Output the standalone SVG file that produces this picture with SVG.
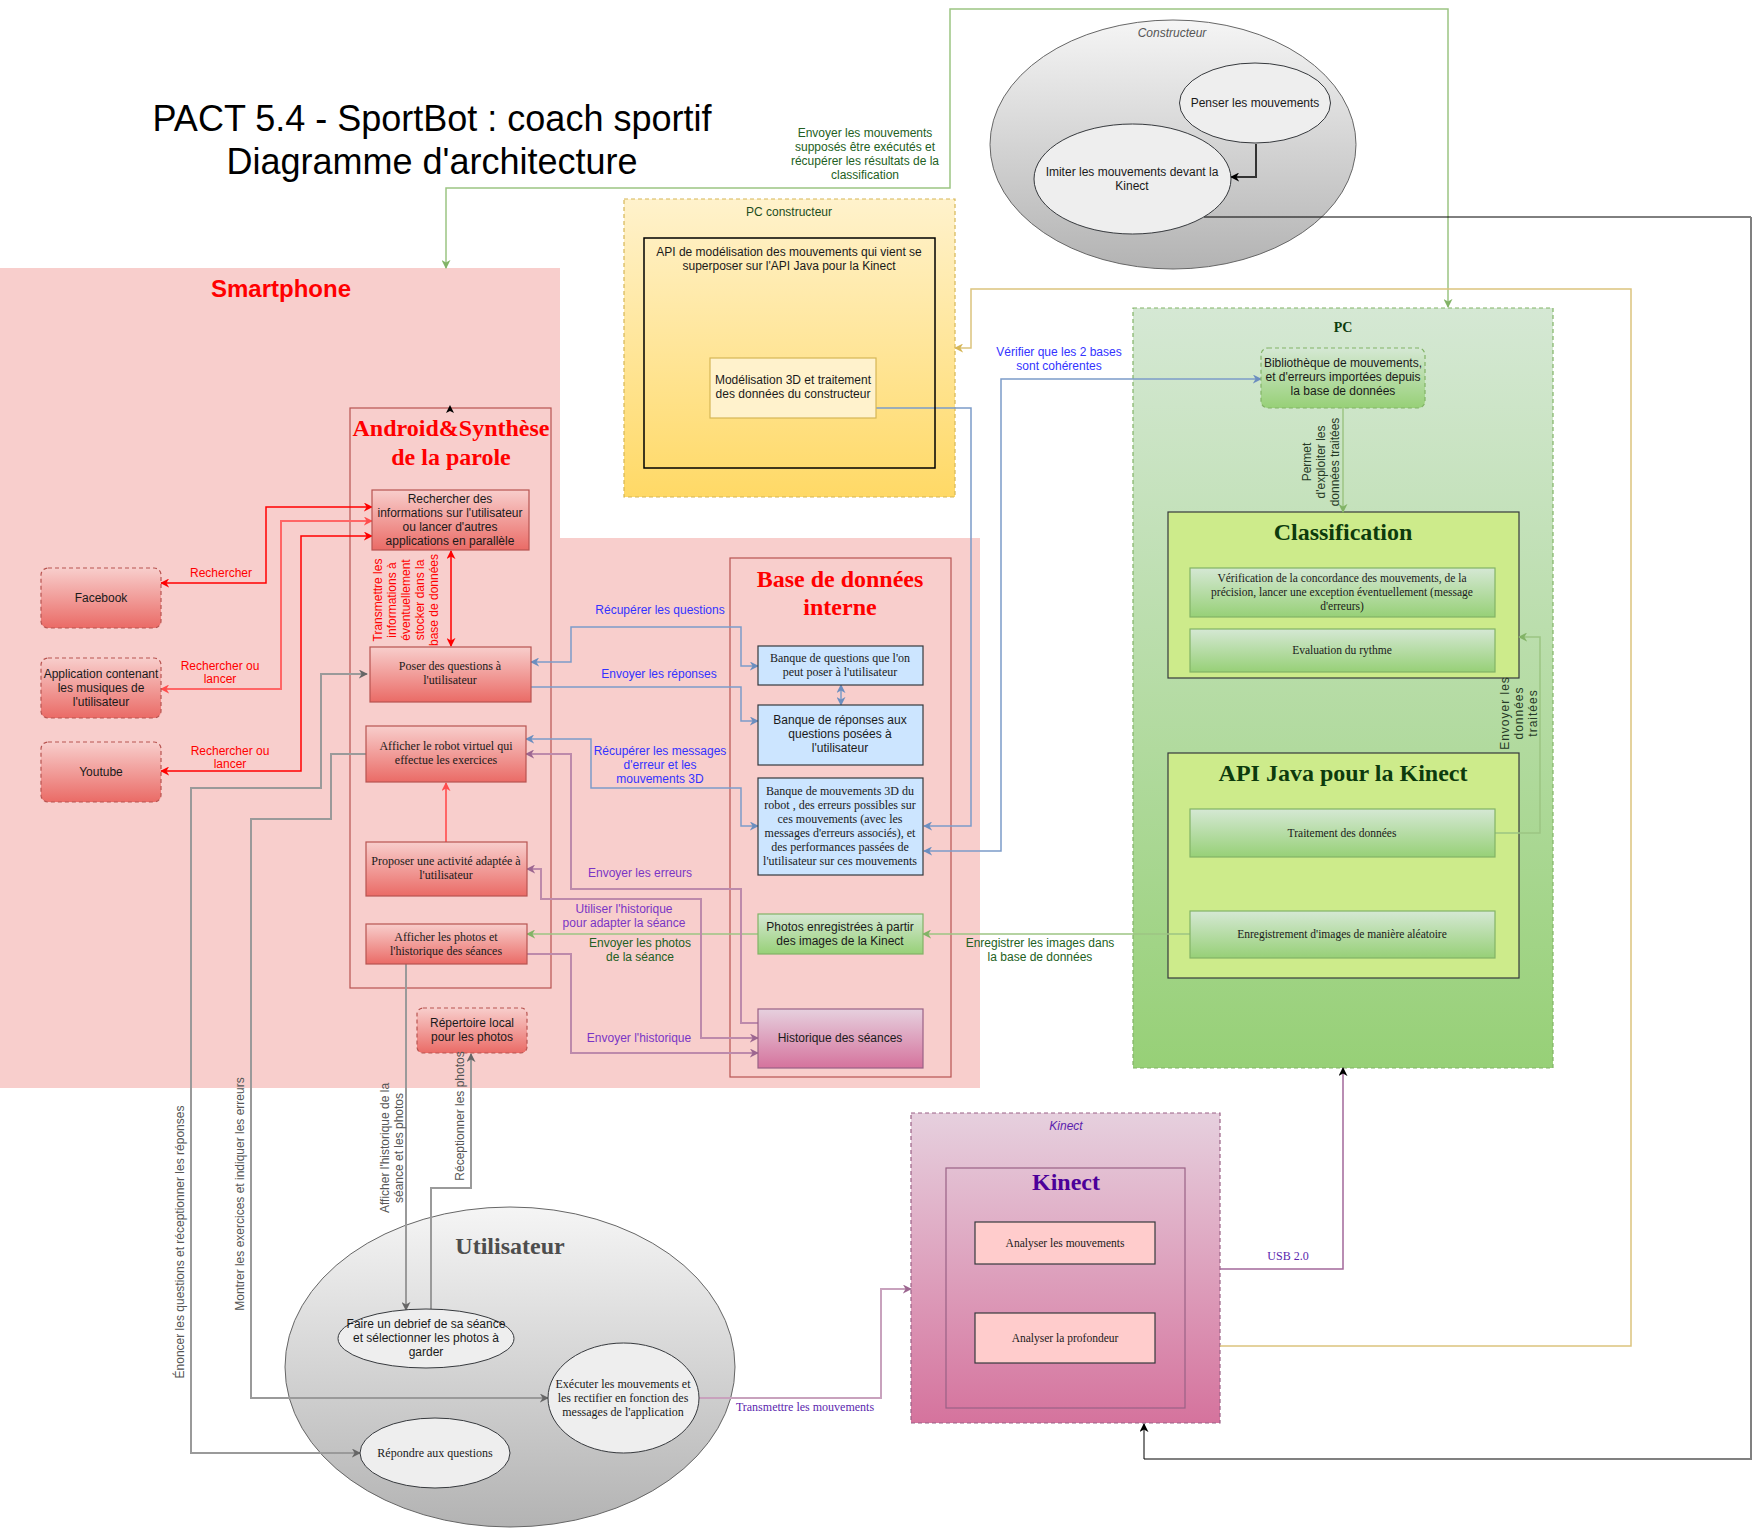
<svg xmlns="http://www.w3.org/2000/svg" width="1761" height="1529" viewBox="0 0 1761 1529">
<defs>
<linearGradient id="gRed" x1="0" y1="0" x2="0" y2="1"><stop offset="0" stop-color="#f8cecc"/><stop offset="1" stop-color="#ea6b66"/></linearGradient>
<linearGradient id="gGreen" x1="0" y1="0" x2="0" y2="1"><stop offset="0" stop-color="#d5e8d4"/><stop offset="1" stop-color="#97d077"/></linearGradient>
<linearGradient id="gYellow" x1="0" y1="0" x2="0" y2="1"><stop offset="0" stop-color="#fff2cc"/><stop offset="1" stop-color="#ffd966"/></linearGradient>
<linearGradient id="gPink" x1="0" y1="0" x2="0" y2="1"><stop offset="0" stop-color="#e6d0de"/><stop offset="1" stop-color="#d5739d"/></linearGradient>
<linearGradient id="gGray" x1="0" y1="0" x2="0" y2="1"><stop offset="0" stop-color="#f5f5f5"/><stop offset="1" stop-color="#b3b3b3"/></linearGradient>
<marker id="ar" viewBox="0 0 10 10" refX="9" refY="5" markerWidth="9" markerHeight="9" markerUnits="userSpaceOnUse" orient="auto-start-reverse"><path d="M0,0 L10,5 L0,10 L3,5 Z" fill="#ff0000"/></marker>
<marker id="ar2" viewBox="0 0 10 10" refX="9" refY="5" markerWidth="9" markerHeight="9" markerUnits="userSpaceOnUse" orient="auto-start-reverse"><path d="M0,0 L10,5 L0,10 L3,5 Z" fill="#ff4d4d"/></marker>
<marker id="ab" viewBox="0 0 10 10" refX="9" refY="5" markerWidth="9" markerHeight="9" markerUnits="userSpaceOnUse" orient="auto-start-reverse"><path d="M0,0 L10,5 L0,10 L3,5 Z" fill="#6c8ebf"/></marker>
<marker id="ap" viewBox="0 0 10 10" refX="9" refY="5" markerWidth="9" markerHeight="9" markerUnits="userSpaceOnUse" orient="auto-start-reverse"><path d="M0,0 L10,5 L0,10 L3,5 Z" fill="#9c6690"/></marker>
<marker id="ag" viewBox="0 0 10 10" refX="9" refY="5" markerWidth="9" markerHeight="9" markerUnits="userSpaceOnUse" orient="auto-start-reverse"><path d="M0,0 L10,5 L0,10 L3,5 Z" fill="#82b366"/></marker>
<marker id="agr" viewBox="0 0 10 10" refX="9" refY="5" markerWidth="9" markerHeight="9" markerUnits="userSpaceOnUse" orient="auto-start-reverse"><path d="M0,0 L10,5 L0,10 L3,5 Z" fill="#666666"/></marker>
<marker id="ay" viewBox="0 0 10 10" refX="9" refY="5" markerWidth="9" markerHeight="9" markerUnits="userSpaceOnUse" orient="auto-start-reverse"><path d="M0,0 L10,5 L0,10 L3,5 Z" fill="#d6b656"/></marker>
<marker id="ak" viewBox="0 0 10 10" refX="9" refY="5" markerWidth="9" markerHeight="9" markerUnits="userSpaceOnUse" orient="auto-start-reverse"><path d="M0,0 L10,5 L0,10 L3,5 Z" fill="#000000"/></marker>
<style>
.sans{font-family:"Liberation Sans",Arial,sans-serif}
.serif{font-family:"Liberation Serif","Times New Roman",serif}
.f12{font-size:12px}
.f11{font-size:11.5px}
.big{font-size:24px;font-weight:bold}
.ink{fill:#1a1a1a}
.mid{text-anchor:middle}
.redbox{fill:url(#gRed);stroke:#b85450;stroke-width:1.2}
.greenbox{fill:url(#gGreen);stroke:#82b366;stroke-width:1.2}
.bluebox{fill:#cce5ff;stroke:#36393d;stroke-width:1.2}
.pinkbox{fill:url(#gPink);stroke:#996185;stroke-width:1.2}
.lgbox{fill:#cdeb8b;stroke:#36393d;stroke-width:1.2}
.rosebox{fill:#ffcccc;stroke:#36393d;stroke-width:1.2}
.inell{fill:#eeeeee;stroke:#36393d;stroke-width:1}
.dash{stroke-dasharray:4 3}
.c-red{stroke:#ff0000;stroke-width:1.5;fill:none}
.c-red2{stroke:#ff6666;stroke-width:2;fill:none}
.c-blue{stroke:#7c9cc9;stroke-width:1.5;fill:none}
.c-purple{stroke:#bd8aab;stroke-width:2;fill:none}
.c-green{stroke:#9cc583;stroke-width:1.5;fill:none}
.c-gray{stroke:#9a9a9a;stroke-width:2;fill:none}
.c-yellow{stroke:#dcc47e;stroke-width:1.5;fill:none}
.c-black{stroke:#000000;stroke-width:1;fill:none}
.c-dark{stroke:#333333;stroke-width:2;fill:none}
.l-red{fill:#ff0000}
.l-blue{fill:#3333ff}
.l-purple{fill:#7a35c5}
.l-green{fill:#235f23}
.l-gray{fill:#555555}
.l-violet{fill:#5b1fae}
</style>
</defs>
<rect x="0" y="0" width="1761" height="1529" fill="#ffffff"/>

<!-- Title -->
<g id="title">
<text class="sans mid" font-size="36" fill="#000" x="432" y="131">PACT 5.4 - SportBot : coach sportif</text>
<text class="sans mid" font-size="36" fill="#000" x="432" y="174">Diagramme d'architecture</text>
</g>

<!-- Containers -->
<g id="smartphone">
<path d="M0,268 H560 V538 H980 V1088 H0 Z" fill="#f8cecc"/>
<text class="sans mid" font-size="24" font-weight="bold" fill="#ff0000" x="281" y="297">Smartphone</text>
</g>
<g id="android">
<rect x="350" y="408" width="201" height="580" fill="none" stroke="#b85450" stroke-width="1.2"/>
<text class="serif big mid" fill="#ff0000" x="451" y="436">Android&amp;Synthèse</text>
<text class="serif big mid" fill="#ff0000" x="451" y="465">de la parole</text>
<path d="M446,413 L450,405 L454,413 L450,411 Z" fill="#000"/>
</g>
<g id="base-donnees">
<rect x="730" y="558" width="221" height="519" fill="none" stroke="#b85450" stroke-width="1.2"/>
<text class="serif big mid" fill="#ff0000" x="840" y="587">Base de données</text>
<text class="serif big mid" fill="#ff0000" x="840" y="615">interne</text>
</g>
<g id="pc-constructeur">
<rect x="624" y="199" width="331" height="298" fill="url(#gYellow)" stroke="#d6b656" stroke-width="1.2" class="dash"/>
<text class="sans f12 mid" fill="#1d4d1d" x="789" y="216">PC constructeur</text>
</g>
<g id="pc">
<rect x="1133" y="308" width="420" height="760" fill="url(#gGreen)" stroke="#82b366" stroke-width="1.2" class="dash"/>
<text class="serif mid" font-size="14" font-weight="bold" fill="#0d3d0d" x="1343" y="332">PC</text>
</g>
<g id="classification">
<rect x="1168" y="512" width="351" height="166" class="lgbox"/>
<text class="serif big mid" fill="#0d3b0d" x="1343" y="540">Classification</text>
</g>
<g id="api-java">
<rect x="1168" y="753" width="351" height="225" class="lgbox"/>
<text class="serif big mid" fill="#0d3b0d" x="1343" y="781">API Java pour la Kinect</text>
</g>
<g id="kinect-device">
<rect x="911" y="1113" width="309" height="310" fill="url(#gPink)" stroke="#996185" stroke-width="1.2" class="dash"/>
<text class="sans f12 mid" font-style="italic" fill="#5b1fae" x="1066" y="1130">Kinect</text>
</g>
<g id="kinect">
<rect x="946" y="1168" width="239" height="240" fill="none" stroke="#996185" stroke-width="1.2"/>
<text class="serif big mid" fill="#4c0099" x="1066" y="1190">Kinect</text>
</g>
<g id="constructeur">
<ellipse cx="1173" cy="144.5" rx="183" ry="124.5" fill="url(#gGray)" stroke="#666" stroke-width="1"/>
<text class="sans f12 mid" font-style="italic" fill="#555" x="1172" y="37">Constructeur</text>
</g>
<g id="utilisateur">
<ellipse cx="510" cy="1367" rx="225" ry="160" fill="url(#gGray)" stroke="#666" stroke-width="1"/>
<text class="serif big mid" fill="#4d4d4d" x="510" y="1254">Utilisateur</text>
</g>

<!-- Connectors -->
<g id="connectors">
<path class="c-green" d="M1448,307 V9 H950 V188 H446 V268" marker-start="url(#ag)" marker-end="url(#ag)"/>
<path class="c-dark" d="M1256,144 V177 H1231" marker-end="url(#ak)"/>
<path class="c-black" d="M1204,217 H1751"/>
<path d="M1751,217 V1459 H1160" fill="none" stroke="#808080" stroke-width="2"/>
<path class="c-black" d="M1160,1459 H1144 V1424" marker-end="url(#ak)"/>
<path class="c-yellow" d="M1220,1346 H1631 V289 H971 V348 H955" marker-end="url(#ay)"/>
<path class="c-blue" d="M876,408 H971 V826 H924" marker-end="url(#ab)"/>
<path class="c-blue" d="M924,851 H1001 V379 H1261" marker-start="url(#ab)" marker-end="url(#ab)"/>
<path class="c-green" d="M1343,408 V512" marker-end="url(#ag)"/>
<path class="c-green" d="M1495,833 H1540 V637 H1519" marker-end="url(#ag)"/>
<path class="c-green" d="M1190,934 H923" marker-end="url(#ag)"/>
<path class="c-green" d="M758,934 H527" marker-end="url(#ag)"/>
<path d="M1220,1269 H1343 V1068" fill="none" stroke="#a3689a" stroke-width="1.5" marker-end="url(#ak)"/>
<path d="M699,1398 H881 V1289 H911" fill="none" stroke="#c8a2bd" stroke-width="2" marker-end="url(#ap)"/>
<path class="c-red" d="M372,507 H266 V583 H161" marker-start="url(#ar)" marker-end="url(#ar)"/>
<path class="c-red2" d="M372,521 H281 V689 H161" marker-start="url(#ar2)" marker-end="url(#ar2)"/>
<path class="c-red" d="M372,536 H301 V771 H161" marker-start="url(#ar)" marker-end="url(#ar)"/>
<path class="c-red" d="M451,551 V646" marker-start="url(#ar)" marker-end="url(#ar)"/>
<path class="c-red2" d="M446,842 V783" marker-end="url(#ar2)"/>
<path class="c-blue" d="M531,662 H571 V627 H741 V666 H758" marker-start="url(#ab)" marker-end="url(#ab)"/>
<path class="c-blue" d="M531,687 H741 V721 H758" marker-end="url(#ab)"/>
<path class="c-blue" d="M526,739 H591 V788 H741 V826 H758" marker-start="url(#ab)" marker-end="url(#ab)"/>
<path class="c-blue" d="M841,685 V705" marker-start="url(#ab)" marker-end="url(#ab)"/>
<path class="c-purple" d="M526,754 H571 V889 H741 V1023 H758" marker-start="url(#ap)"/>
<path class="c-purple" d="M527,869 H541 V899 H701 V1038 H758" marker-start="url(#ap)" marker-end="url(#ap)"/>
<path class="c-purple" d="M527,954 H571 V1053 H758" marker-end="url(#ap)"/>
<path class="c-gray" d="M367,674 H321 V788 H191 V1453 H360" marker-start="url(#agr)" marker-end="url(#agr)"/>
<path class="c-gray" d="M366,754 H331 V819 H251 V1398 H548" marker-end="url(#agr)"/>
<path class="c-gray" d="M406,964 V1310" marker-end="url(#agr)"/>
<path class="c-gray" d="M431,1309 V1188 H471 V1054" marker-end="url(#agr)"/>
</g>

<!-- Leaf nodes -->
<g id="facebook"><rect x="41" y="568" width="120" height="60" rx="7" class="redbox dash"/><text class="sans f12 mid ink" x="101" y="602">Facebook</text></g>
<g id="musiques"><rect x="41" y="658" width="120" height="60" rx="7" class="redbox dash"/><text class="sans f12 mid ink" x="101" y="678">Application contenant<tspan x="101" dy="14">les musiques de</tspan><tspan x="101" dy="14">l'utilisateur</tspan></text></g>
<g id="youtube"><rect x="41" y="742" width="120" height="60" rx="7" class="redbox dash"/><text class="sans f12 mid ink" x="101" y="776">Youtube</text></g>
<g id="rechercher-infos"><rect x="372" y="490" width="157" height="60" class="redbox"/><text class="sans f12 mid ink" x="450" y="503">Rechercher des<tspan x="450" dy="14">informations sur l'utilisateur</tspan><tspan x="450" dy="14">ou lancer d'autres</tspan><tspan x="450" dy="14">applications en parallèle</tspan></text></g>
<g id="poser-questions"><rect x="370" y="647" width="161" height="55" class="redbox"/><text class="serif f12 mid ink" x="450" y="670">Poser des questions à<tspan x="450" dy="14">l'utilisateur</tspan></text></g>
<g id="afficher-robot"><rect x="366" y="726" width="160" height="56" class="redbox"/><text class="serif f12 mid ink" x="446" y="750">Afficher le robot virtuel qui<tspan x="446" dy="14">effectue les exercices</tspan></text></g>
<g id="proposer-activite"><rect x="366" y="842" width="161" height="54" class="redbox"/><text class="serif f12 mid ink" x="446" y="865">Proposer une activité adaptée à<tspan x="446" dy="14">l'utilisateur</tspan></text></g>
<g id="afficher-photos"><rect x="366" y="924" width="161" height="40" class="redbox"/><text class="serif f12 mid ink" x="446" y="941">Afficher les photos et<tspan x="446" dy="14">l'historique des séances</tspan></text></g>
<g id="repertoire-photos"><rect x="417" y="1008" width="110" height="45" rx="6" class="redbox dash"/><text class="sans f12 mid ink" x="472" y="1027">Répertoire local<tspan x="472" dy="14">pour les photos</tspan></text></g>
<g id="banque-questions"><rect x="758" y="646" width="165" height="39" class="bluebox"/><text class="serif f12 mid ink" x="840" y="662">Banque de questions que l'on<tspan x="840" dy="14">peut poser à l'utilisateur</tspan></text></g>
<g id="banque-reponses"><rect x="758" y="705" width="165" height="60" class="bluebox"/><text class="sans f12 mid ink" x="840" y="724">Banque de réponses aux<tspan x="840" dy="14">questions posées à</tspan><tspan x="840" dy="14">l'utilisateur</tspan></text></g>
<g id="banque-mouvements"><rect x="758" y="778" width="165" height="97" class="bluebox"/><text class="serif f12 mid ink" x="840" y="795">Banque de mouvements 3D du<tspan x="840" dy="14">robot , des erreurs possibles sur</tspan><tspan x="840" dy="14">ces mouvements (avec les</tspan><tspan x="840" dy="14">messages d'erreurs associés), et</tspan><tspan x="840" dy="14">des performances passées de</tspan><tspan x="840" dy="14">l'utilisateur sur ces mouvements</tspan></text></g>
<g id="photos-kinect"><rect x="758" y="914" width="165" height="40" class="greenbox"/><text class="sans f12 mid ink" x="840" y="931">Photos enregistrées à partir<tspan x="840" dy="14">des images de la Kinect</tspan></text></g>
<g id="historique"><rect x="758" y="1009" width="165" height="59" class="pinkbox"/><text class="sans f12 mid ink" x="840" y="1042">Historique des séances</text></g>
<g id="api-modelisation"><rect x="644" y="238" width="291" height="230" fill="none" stroke="#000" stroke-width="1.5"/><text class="sans f12 mid ink" x="789" y="256">API de modélisation des mouvements qui vient se<tspan x="789" dy="14">superposer sur l'API Java pour la Kinect</tspan></text></g>
<g id="modelisation-3d"><rect x="710" y="358" width="166" height="60" fill="#fff2cc" stroke="#d6b656" stroke-width="1.2"/><text class="sans f12 mid ink" x="793" y="384">Modélisation 3D et traitement<tspan x="793" dy="14">des données du constructeur</tspan></text></g>
<g id="bibliotheque"><rect x="1261" y="348" width="164" height="60" rx="7" class="greenbox dash"/><text class="sans f12 mid ink" x="1343" y="367">Bibliothèque de mouvements,<tspan x="1343" dy="14">et d'erreurs importées depuis</tspan><tspan x="1343" dy="14">la base de données</tspan></text></g>
<g id="verification"><rect x="1190" y="568" width="305" height="49" class="greenbox"/><text class="serif f11 mid ink" x="1342" y="582">Vérification de la concordance des mouvements, de la<tspan x="1342" dy="14">précision, lancer une exception éventuellement (message</tspan><tspan x="1342" dy="14">d'erreurs)</tspan></text></g>
<g id="evaluation-rythme"><rect x="1190" y="629" width="305" height="43" class="greenbox"/><text class="serif f11 mid ink" x="1342" y="654">Evaluation du rythme</text></g>
<g id="traitement-donnees"><rect x="1190" y="809" width="305" height="48" class="greenbox"/><text class="serif f11 mid ink" x="1342" y="837">Traitement des données</text></g>
<g id="enregistrement-images"><rect x="1190" y="911" width="305" height="47" class="greenbox"/><text class="serif f11 mid ink" x="1342" y="938">Enregistrement d'images de manière aléatoire</text></g>
<g id="analyser-mouvements"><rect x="975" y="1222" width="180" height="42" class="rosebox"/><text class="serif f11 mid ink" x="1065" y="1247">Analyser les mouvements</text></g>
<g id="analyser-profondeur"><rect x="975" y="1313" width="180" height="50" class="rosebox"/><text class="serif f11 mid ink" x="1065" y="1342">Analyser la profondeur</text></g>
<g id="penser"><ellipse cx="1255" cy="103" rx="75.5" ry="40" class="inell"/><text class="sans f12 mid ink" x="1255" y="107">Penser les mouvements</text></g>
<g id="imiter"><ellipse cx="1132.5" cy="179" rx="98.5" ry="55" class="inell"/><text class="sans f12 mid ink" x="1132" y="176">Imiter les mouvements devant la<tspan x="1132" dy="14">Kinect</tspan></text></g>
<g id="debrief"><ellipse cx="426" cy="1338.5" rx="88" ry="29.5" class="inell"/><text class="sans f12 mid ink" x="426" y="1328">Faire un debrief de sa séance<tspan x="426" dy="14">et sélectionner les photos à</tspan><tspan x="426" dy="14">garder</tspan></text></g>
<g id="executer"><ellipse cx="623.5" cy="1398" rx="75.5" ry="55" class="inell"/><text class="serif f12 mid ink" x="623" y="1388">Exécuter les mouvements et<tspan x="623" dy="14">les rectifier en fonction des</tspan><tspan x="623" dy="14">messages de l'application</tspan></text></g>
<g id="repondre"><ellipse cx="435" cy="1453" rx="75" ry="35" class="inell"/><text class="serif f12 mid ink" x="435" y="1457">Répondre aux questions</text></g>

<!-- Connector labels -->
<g id="labels">
<text class="sans f12 mid l-green" x="865" y="137">Envoyer les mouvements<tspan x="865" dy="14">supposés être exécutés et</tspan><tspan x="865" dy="14">récupérer les résultats de la</tspan><tspan x="865" dy="14">classification</tspan></text>
<text class="sans f12 mid l-blue" x="1059" y="356">Vérifier que les 2 bases<tspan x="1059" dy="14">sont cohérentes</tspan></text>
<text class="sans f12 mid l-green" x="1040" y="947">Enregistrer les images dans<tspan x="1040" dy="14">la base de données</tspan></text>
<text class="sans f12 mid l-red" x="221" y="577">Rechercher</text>
<text class="sans f12 mid l-red" x="220" y="670">Rechercher ou<tspan x="220" dy="13">lancer</tspan></text>
<text class="sans f12 mid l-red" x="230" y="755">Rechercher ou<tspan x="230" dy="13">lancer</tspan></text>
<text class="sans f12 mid l-blue" x="660" y="614">Récupérer les questions</text>
<text class="sans f12 mid l-blue" x="659" y="678">Envoyer les réponses</text>
<text class="sans f12 mid l-blue" x="660" y="755">Récupérer les messages<tspan x="660" dy="14">d'erreur et les</tspan><tspan x="660" dy="14">mouvements 3D</tspan></text>
<text class="sans f12 mid l-purple" x="640" y="877">Envoyer les erreurs</text>
<text class="sans f12 mid l-purple" x="624" y="913">Utiliser l'historique<tspan x="624" dy="14">pour adapter la séance</tspan></text>
<text class="sans f12 mid l-green" x="640" y="947">Envoyer les photos<tspan x="640" dy="14">de la séance</tspan></text>
<text class="sans f12 mid l-purple" x="639" y="1042">Envoyer l'historique</text>
<text class="serif f12 mid l-violet" x="1288" y="1260">USB 2.0</text>
<text class="serif f12 mid l-violet" x="805" y="1411">Transmettre les mouvements</text>
<text class="sans f12 mid l-red" transform="translate(382,600) rotate(-90)" x="0" y="0">Transmettre les<tspan x="0" dy="14">informations à</tspan><tspan x="0" dy="14">éventuellement</tspan><tspan x="0" dy="14">stocker dans la</tspan><tspan x="0" dy="14">base de données</tspan></text>
<text class="sans f12 mid" fill="#263a26" transform="translate(1311,462) rotate(-90)" x="0" y="0">Permet<tspan x="0" dy="14">d'exploiter les</tspan><tspan x="0" dy="14">données traitées</tspan></text>
<text class="sans f12 mid" fill="#263a26" letter-spacing="1" transform="translate(1509,713) rotate(-90)" x="0" y="0">Envoyer les<tspan x="0" dy="14">données</tspan><tspan x="0" dy="14">traitées</tspan></text>
<text class="sans f12 mid l-gray" transform="translate(184,1242) rotate(-90)" x="0" y="0">Énoncer les questions et réceptionner les réponses</text>
<text class="sans f12 mid l-gray" transform="translate(244,1194) rotate(-90)" x="0" y="0">Montrer les exercices et indiquer les erreurs</text>
<text class="sans f12 mid l-gray" transform="translate(389,1148) rotate(-90)" x="0" y="0">Afficher l'historique de la<tspan x="0" dy="14">séance et les photos</tspan></text>
<text class="sans f12 mid l-gray" transform="translate(464,1116) rotate(-90)" x="0" y="0">Réceptionner les photos</text>
</g>
</svg>
